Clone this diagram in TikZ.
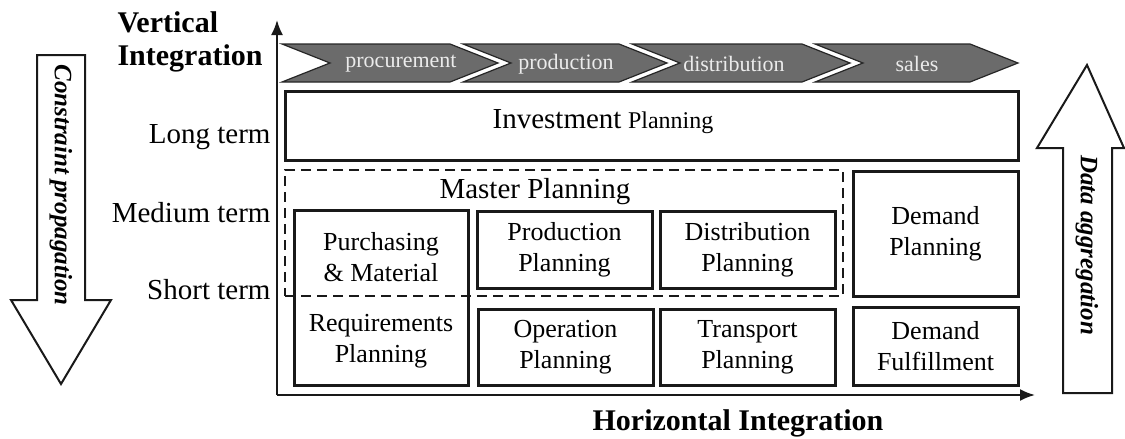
\documentclass[tikz,border=0pt]{standalone}
\usepackage{fontspec}
\setmainfont{Liberation Serif}
\usetikzlibrary{arrows.meta, positioning}

\begin{document}
\begin{tikzpicture}[x=1pt, y=-1pt, >={Latex[length=15pt, width=12pt]},
  plan/.style={draw=black!90, line width=3pt, inner sep=0pt, align=center,
    font=\fontsize{26}{31}\selectfont},
  plantext/.style={align=center, font=\fontsize{26}{31}\selectfont},
  masterbox/.style={draw=black!90, line width=2.8pt, dash pattern=on 10pt off 6pt, inner sep=0pt},
  term/.style={anchor=east, font=\fontsize{29}{32}\selectfont},
  axislabel/.style={font=\fontsize{30}{33}\bfseries\selectfont},
  axis/.style={line width=2pt, draw=black!90},
  chevron/.style={fill=black!58, draw=black!85, line width=1.2pt},
  stage/.style={text=black!8, font=\fontsize{22}{24}\selectfont},
  bigarrow/.style={draw=black!90, line width=2pt, fill=white},
  flowtext/.style={font=\fontsize{25}{28}\bfseries\itshape\selectfont}]
  \useasboundingbox (0,0) rectangle (1125,439);

  % axes
  \coordinate (origin) at (277,395);
  \coordinate (vtip) at (277,20);
  \coordinate (htip) at (1035,395);
  \draw[axis, ->] (origin) -- (vtip);
  \draw[axis, ->] (origin) -- (htip);
  \node[axislabel, anchor=west, align=left] (vert) at (114,42) {Vertical\\Integration};
  \node[axislabel] (horiz) at (738,423) {Horizontal Integration};

  % supply chain stages
  \foreach \xl/\xr/\word/\xt in {282/450/procurement/401, 463/619/production/566,
                                 632/802/distribution/734, 815/970/sales/917} {
    \draw[chevron] (\xl,44) -- (\xr,44) -- ++(48,19) -- (\xr,82) -- (\xl,82) -- (\xl+48,63) -- cycle;
    \node[stage] (\word) at (\xt,64) {\word};
  }

  % planning horizons
  \node[term] (long) at (274,137) {Long term};
  \node[term] (medium) at (274,213) {Medium term};
  \node[term] (short) at (274,290) {Short term};

  % planning tasks
  \node[plan, minimum width=733, minimum height=69] (invest) at (651.5,125.5) {};
  \node[plantext] (investtext) at (603,122) {{\fontsize{29}{30}\selectfont Investment} {\fontsize{24}{26}\selectfont Planning}};

  \node[masterbox, minimum width=558, minimum height=126] (master) at (564,233) {};
  \node[font=\fontsize{29}{32}\selectfont] (mastertext) at (535,192) {Master Planning};

  \node[plan, minimum width=174, minimum height=175] (purchase) at (381,297.5) {};
  \node[plantext] (purchtext) at (381,257) {Purchasing\\\& Material};
  \node[plantext] (reqtext) at (381,341) {Requirements\\Planning};

  \node[plan, minimum width=175, minimum height=77] (prodplan) at (564.5,249.5) {Production\\Planning};
  \node[plan, minimum width=175, minimum height=77] (distplan) at (747.5,249.5) {Distribution\\Planning};
  \node[plan, minimum width=165, minimum height=125] (demplan) at (935.5,233.5) {Demand\\Planning};
  \node[plan, minimum width=175, minimum height=76] (opplan) at (565.5,347) {Operation\\Planning};
  \node[plan, minimum width=175, minimum height=76] (transplan) at (747.5,347) {Transport\\Planning};
  \node[plan, minimum width=165, minimum height=78] (demful) at (935.5,346) {Demand\\Fulfillment};

  % propagation arrows
  \draw[bigarrow] (37,55) -- (85,55) -- (85,300) -- (111,300) -- (61,384) -- (11,300) -- (37,300) -- cycle;
  \node[flowtext, rotate=-90] (constraint) at (61,185) {Constraint propagation};
  \draw[bigarrow] (1063,393) -- (1112,393) -- (1112,148) -- (1124,148) -- (1087,65) -- (1037,148) -- (1063,148) -- cycle;
  \node[flowtext, rotate=-90] (aggregation) at (1087,245) {Data aggregation};
\end{tikzpicture}
\end{document}
